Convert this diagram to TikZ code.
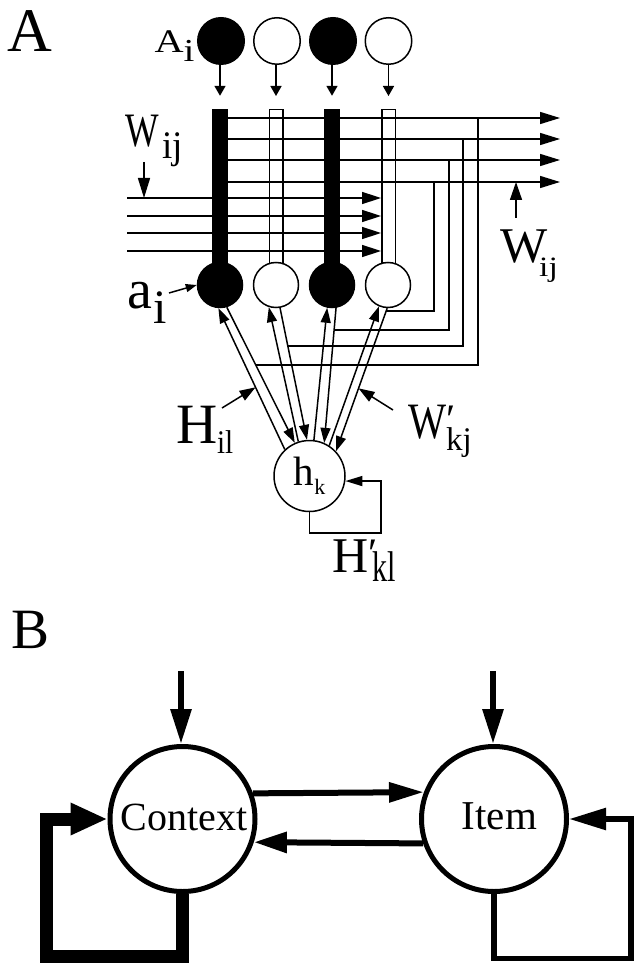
\documentclass[tikz,border=0pt]{standalone}
\usepackage{fontspec}
\setmainfont{Liberation Serif}
\usepackage{graphicx}
\usetikzlibrary{arrows.meta,calc,intersections}
\pgfdeclarelayer{wires}
\pgfsetlayers{wires,main}
\newcommand\fsz[1]{\fontsize{#1}{#1}\selectfont}
\begin{document}
\begin{tikzpicture}[x=1pt,y=-1pt,
  wire/.style={line width=1.5pt},
  tipL/.style={-{Triangle[length=20pt,width=12pt]}},
  tipM/.style={-{Triangle[length=15pt,width=10pt]}},
  tipS/.style={-{Triangle[length=10pt,width=11pt]}},
  tipB/.style={-{Triangle[length=35pt,width=20pt]}},
  lbl/.style={inner sep=0pt,outer sep=0pt,anchor=base west},
  unit/.style={circle,draw,line width=1.5pt,inner sep=0pt},
  unitOn/.style={unit,fill=black},
  unitOff/.style={unit,fill=white},
  barOn/.style={rectangle,fill=black,inner sep=0pt,minimum width=16pt,minimum height=161pt},
  barOff/.style={rectangle,draw,line width=1.5pt,inner sep=0pt,minimum width=13.5pt,minimum height=159.5pt},
  big/.style={circle,draw,line width=5pt,fill=white,inner sep=0pt,minimum size=145pt},
  bold/.style={line width=6pt},
]
\useasboundingbox (0,0) rectangle (634,968);

% ---------------- panel A ----------------
\node[lbl] (labA) at (7,52) {\fsz{62}A};

% dendritic bars of the four units
\node[barOn]  (b1) at (220,189.5) {};
\node[barOff] (b2) at (276,189.5) {};
\node[barOn]  (b3) at (332,189.5) {};
\node[barOff] (b4) at (388.5,189.5) {};

% input pattern A_i
\node[unitOn, minimum size=46.5pt] (t1) at (221,41) {};
\node[unitOff,minimum size=46.5pt] (t2) at (277,41) {};
\node[unitOn, minimum size=46.5pt] (t3) at (333,41) {};
\node[unitOff,minimum size=46.5pt] (t4) at (388.5,41) {};

% output units a_i
\node[unitOn, minimum size=45pt] (a1) at (220,285) {};
\node[unitOff,minimum size=45pt] (a2) at (276,285) {};
\node[unitOn, minimum size=45pt] (a3) at (332,285) {};
\node[unitOff,minimum size=45pt] (a4) at (388,285) {};

% hidden unit h_k
\node[unitOff,minimum size=71pt] (h) at (309.5,476) {\fsz{41}h\raisebox{-9pt}{\fsz{22}k}};

% inputs onto the bars
\foreach \k in {1,...,4}
  \draw[wire,tipS] (t\k.south -| b\k) -- ([yshift=13pt]b\k.north);

% ends of the a_i -> h_k lines
\coordinate (aR1) at (a1.-73);   \coordinate (hR1) at (h.114);
\coordinate (aR2) at (a2.-80);   \coordinate (hR2) at (h.94);
\coordinate (aR3) at (a3.-80);   \coordinate (hR3) at (h.66);
\coordinate (aR4) at (a4.-92.5); \coordinate (hR4) at (h.43);

\begin{pgfonlayer}{wires}
  % recurrent outputs W_ij
  \foreach \yy/\k in {118/1,139/2,160/3,182/4} {
    \coordinate (o\k) at (560,\yy);
    \draw[wire,tipL] (b1 |- o\k) -- (o\k);
  }
  % incoming collaterals
  \foreach \yy/\k in {198/1,216/2,233/3,251/4} {
    \coordinate (i\k) at (127,\yy);
    \draw[wire,-{Triangle[length=19pt,width=12pt]}] (i\k) -- (b4.west |- i\k);
  }
  % return paths down to the a_i -> h_k lines
  \foreach \k/\xx/\yy in {1/478/365,2/463/346,3/449/330,4/434/311} {
    \coordinate (jx) at (\xx,\yy);
    \path[name path=wl] (aR\k) -- (hR\k);
    \path[name path=hl] (0,\yy) -- (600,\yy);
    \path[name intersections={of=wl and hl,by=ret}];
    \draw[wire] (o\k -| jx) |- (ret);
  }
\end{pgfonlayer}

% h_k -> a_i (H_il)
\draw[wire,tipM] (h.133)  -- (a1.-94);
\draw[wire,tipM] (h.108)  -- (a2.-108);
\draw[wire,tipM] (h.83)   -- (a3.-102.5);
\draw[wire,tipM] (h.57.5) -- (a4.-113.7);
% a_i -> h_k (W'_kj)
\foreach \k in {1,...,4}
  \draw[wire,tipM] (aR\k) -- (hR\k);

% self connection H'_kl
\draw[wire,-{Triangle[length=17pt,width=10pt]}] (h.south) |- (381,533) |- (h.-8);

% pointer arrows of the labels
\coordinate (wInTail) at (144,162);
\draw[wire,tipL] (wInTail) -- (wInTail |- i1);
\coordinate (wOutTail) at (516,218);
\draw[wire,-{Triangle[length=18pt,width=12pt]}] (wOutTail) -- (wOutTail |- o4);
\coordinate (aiTail) at (169,293);
\draw[wire,-{Triangle[length=11pt,width=8pt]}] (aiTail) -- (a1.west);
\coordinate (hilTail) at (222,408);
\draw[wire,-{Triangle[length=16pt,width=11pt]}] (hilTail) -- ($(h.133)!0.44!(a1.-94)$);
\coordinate (wkjTail) at (393,410);
\draw[wire,-{Triangle[length=16pt,width=11pt]}] (wkjTail) -- ($(aR4)!0.56!(hR4)$);

% labels
\node[lbl] (labAi) at (154.6,53) {\scalebox{1.22}[1]{\fsz{33}A\raisebox{-9pt}{\fsz{32}i}}};
\node[lbl] (labWin) at (125,147) {\scalebox{0.74}[1]{\fsz{48}W}\kern4pt\raisebox{-11.5pt}{\scalebox{0.95}[1]{\fsz{39}ij}}};
\node[lbl] (labWout) at (500,262) {\fsz{50}W\kern-8pt\raisebox{-14pt}{\scalebox{1.2}[1]{\fsz{28}ij}}};
\node[lbl] (labai) at (127,308) {\fsz{56}a\kern2pt\raisebox{-15pt}{\fsz{48}i}};
\node[lbl] (labH) at (176,443) {\fsz{57}H\raisebox{-10pt}{\scalebox{0.88}[1]{\fsz{33}il}}};
\node[lbl] (labWp) at (408,438) {\scalebox{0.79}[1]{\fsz{51}W}\rlap{\raisebox{5pt}{\fsz{42}′}}\raisebox{-12pt}{\fsz{33}kj}};
\node[lbl] (labHp) at (332,572) {\fsz{50}H\rlap{\raisebox{5pt}{\fsz{42}′}}\kern4pt\raisebox{-9pt}{\scalebox{0.7}[1]{\fsz{43}kl}}};

% ---------------- panel B ----------------
\node[lbl] (labB) at (11,648) {\fsz{57}B};
\node[big] (ctx) at (182.5,819) {};
\node[big] (itm) at (494,819) {};
\node[inner sep=0pt,anchor=base] (ctxName) at (184,830) {\fsz{40}Context};
\node[inner sep=0pt,anchor=base] (itmName) at (499.5,829) {\fsz{41}Item};

\coordinate (ctxIn) at (181,671);
\coordinate (itmIn) at (493,671);
\draw[bold,tipB] (ctxIn) -- (ctxIn |- ctx.north);
\draw[bold,tipB] (itmIn) -- (itmIn |- itm.north);
\draw[bold,-{Triangle[length=35pt,width=19pt]}] (ctx.20.3) -- (itm.159.7);
\draw[bold,-{Triangle[length=33pt,width=20pt]}] (itm.-161.3) -- (ctx.-18.7);
\draw[line width=13pt,-{Triangle[length=37pt,width=30pt]}] (ctx.south) |- (46.5,956.5) |- (ctx.west);
\draw[line width=5.5pt,-{Triangle[length=37pt,width=21pt]}] (itm.south) |- (631,958.5) |- (itm.east);
\end{tikzpicture}
\end{document}
